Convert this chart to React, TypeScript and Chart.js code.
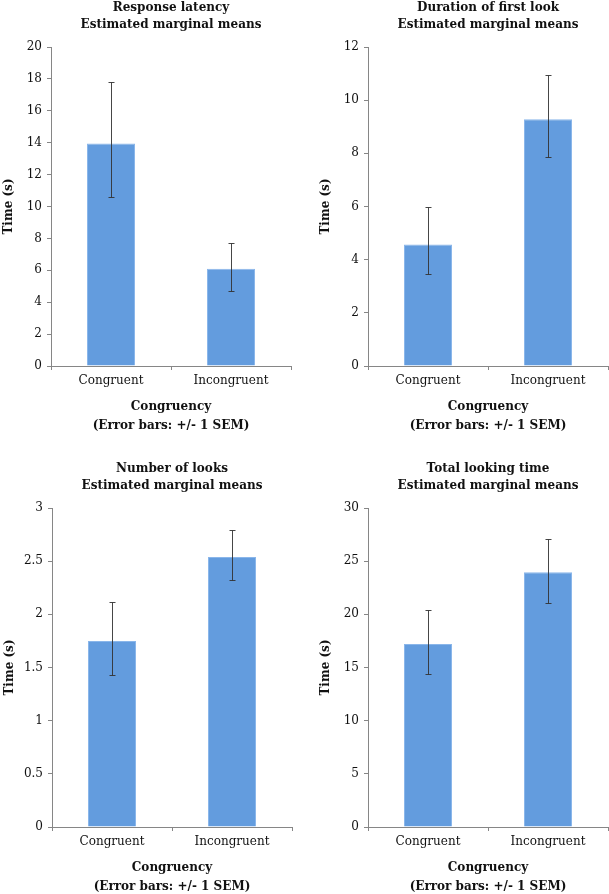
import React, { useEffect, useRef } from "react";
import { Chart, registerables } from "chart.js";

Chart.register(...registerables);

const categories = ["Congruent", "Incongruent"];

const titles1 = ["Response latency", "Estimated marginal means"];
const means1 = [13.95, 6.1];
const upper1 = [17.8, 7.7];
const lower1 = [10.6, 4.72];

const titles2 = ["Duration of first look", "Estimated marginal means"];
const means2 = [4.57, 9.28];
const upper2 = [6.0, 10.96];
const lower2 = [3.45, 7.85];

const titles3 = ["Number of looks", "Estimated marginal means"];
const means3 = [1.75, 2.54];
const upper3 = [2.12, 2.79];
const lower3 = [1.43, 2.32];

const titles4 = ["Total looking time", "Estimated marginal means"];
const means4 = [17.2, 23.96];
const upper4 = [20.4, 27.1];
const lower4 = [14.38, 21.1];

const yMax = [20, 12, 3, 30];
const yStep = [2, 2, 0.5, 5];

const yTitle = "Time (s)";
const xTitle = ["Congruency", "(Error bars: +/- 1 SEM)"];

const FONT = "'DejaVu Serif', serif";
const AXIS_GRAY = "#868686";

const errorBarPlugin = {
  id: "errorBars",
  afterDatasetsDraw(chart: any, _args: any, opts: any) {
    const { ctx } = chart;
    const meta = chart.getDatasetMeta(0);
    const yScale = chart.scales.y;
    const up: number[] = opts.upper || [];
    const lo: number[] = opts.lower || [];
    ctx.save();
    ctx.strokeStyle = "rgba(50,50,50,0.9)";
    ctx.lineWidth = 1;
    meta.data.forEach((bar: any, i: number) => {
      const x = Math.round(bar.x) + 0.5;
      const yTop = Math.round(yScale.getPixelForValue(up[i])) + 0.5;
      const yBot = Math.round(yScale.getPixelForValue(lo[i])) + 0.5;
      ctx.beginPath();
      ctx.moveTo(x, yTop);
      ctx.lineTo(x, yBot);
      ctx.moveTo(x - 3, yTop);
      ctx.lineTo(x + 3, yTop);
      ctx.moveTo(x - 3, yBot);
      ctx.lineTo(x + 3, yBot);
      ctx.stroke();
    });
    ctx.restore();
  },
};

type PanelProps = {
  left: number;
  top: number;
  width: number;
  height: number;
  padRight: number;
  title: string[];
  means: number[];
  upper: number[];
  lower: number[];
  max: number;
  step: number;
};

function Panel(p: PanelProps) {
  const ref = useRef<HTMLCanvasElement | null>(null);
  useEffect(() => {
    if (!ref.current) return;
    const plotBottom = 367;
    const chart = new Chart(ref.current, {
      type: "bar",
      data: {
        labels: categories,
        datasets: [
          {
            data: p.means,
            backgroundColor: "rgb(99,156,222)",
            borderColor: "rgb(138,182,234)",
            borderWidth: 1,
            barPercentage: 0.4,
            categoryPercentage: 1,
          },
        ],
      },
      options: {
        responsive: false,
        animation: false,
        layout: { padding: { left: 0, right: p.padRight, top: 0, bottom: 0 } },
        plugins: {
          legend: { display: false },
          tooltip: { enabled: false },
          title: {
            display: true,
            text: p.title,
            fullSize: false,
            color: "#111",
            font: { family: FONT, size: 12, weight: "bold", lineHeight: "17px" },
            padding: { top: 0, bottom: 14 },
          },
          errorBars: { upper: p.upper, lower: p.lower },
        } as any,
        scales: {
          x: {
            offset: true,
            grid: {
              display: true,
              offset: true,
              drawOnChartArea: false,
              drawTicks: true,
              tickLength: 4,
              color: AXIS_GRAY,
            },
            border: { display: true, color: AXIS_GRAY, width: 1 },
            ticks: {
              color: "#111",
              padding: 4,
              font: { family: FONT, size: 12 },
              maxRotation: 0,
            },
            title: {
              display: true,
              text: xTitle,
              color: "#111",
              font: { family: FONT, size: 12, weight: "bold", lineHeight: "19px" },
              padding: { top: 0, bottom: 0 },
            },
            afterFit: (scale: any) => {
              scale.height = p.height - plotBottom;
            },
          },
          y: {
            min: 0,
            max: p.max,
            grid: {
              display: true,
              drawOnChartArea: false,
              drawTicks: true,
              tickLength: 4,
              color: AXIS_GRAY,
            },
            border: { display: true, color: AXIS_GRAY, width: 1 },
            ticks: {
              stepSize: p.step,
              color: "#111",
              padding: 5,
              font: { family: FONT, size: 12 },
              callback: (v: any) => String(Number(v)),
            },
            title: {
              display: true,
              text: yTitle,
              color: "#111",
              font: { family: FONT, size: 12, weight: "bold", lineHeight: "15px" },
              padding: { top: 1.5, bottom: 0 },
            },
            afterFit: (scale: any) => {
              scale.width = 51;
            },
          },
        },
      },
      plugins: [errorBarPlugin as any],
    });
    return () => chart.destroy();
  }, []);
  return (
    <div
      style={{
        position: "absolute",
        left: p.left,
        top: p.top,
        width: p.width,
        height: p.height,
      }}
    >
      <canvas
        ref={ref}
        width={p.width}
        height={p.height}
        style={{ width: p.width, height: p.height, display: "block" }}
      />
    </div>
  );
}

export default function App() {
  const H = 436;
  return (
    <div
      style={{
        position: "fixed",
        left: 0,
        top: 0,
        width: 609,
        height: 894,
        overflow: "hidden",
        background: "#fff",
      }}
    >
      <Panel left={0} top={-1} width={300} height={H} padRight={9} title={titles1} means={means1} upper={upper1} lower={lower1} max={yMax[0]} step={yStep[0]} />
      <Panel left={317} top={-1} width={292} height={H} padRight={1} title={titles2} means={means2} upper={upper2} lower={lower2} max={yMax[1]} step={yStep[1]} />
      <Panel left={1} top={460} width={300} height={H} padRight={9} title={titles3} means={means3} upper={upper3} lower={lower3} max={yMax[2]} step={yStep[2]} />
      <Panel left={317} top={460} width={292} height={H} padRight={1} title={titles4} means={means4} upper={upper4} lower={lower4} max={yMax[3]} step={yStep[3]} />
    </div>
  );
}
